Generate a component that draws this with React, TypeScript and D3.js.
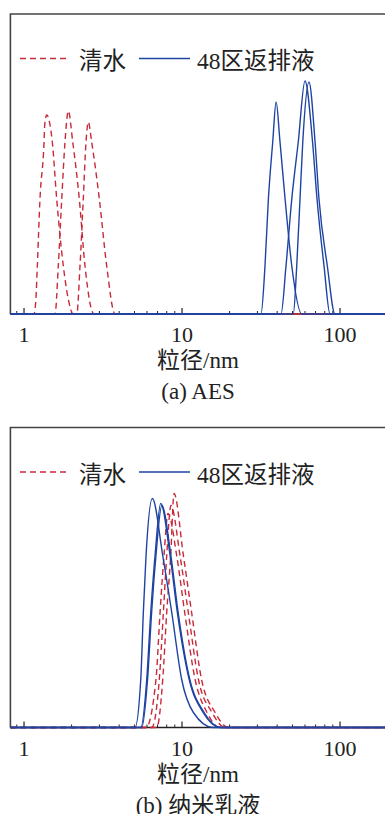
import React from 'react';
import * as d3 from 'd3';

type Pt = [number, number];

// particle size (nm) vs intensity (%)
const aesWater1: Pt[] = [[0.82, 0], [1.157, 0], [1.19, 1.6], [1.214, 4.8], [1.262, 11.5], [1.339, 17.2], [1.352, 18.9], [1.392, 19.9], [1.461, 18.9], [1.51, 17.2], [1.61, 11.5], [1.773, 4.8], [1.9, 1.6], [2.05, 0], [200, 0]];
const aesWater2: Pt[] = [[0.82, 0], [1.571, 0], [1.648, 4.8], [1.733, 11.5], [1.817, 17.2], [1.907, 20.3], [2.034, 17.2], [2.238, 11.5], [2.432, 4.8], [2.773, 0], [200, 0]];
const aesWater3: Pt[] = [[0.82, 0], [2.157, 0], [2.261, 4.8], [2.372, 11.5], [2.468, 17.2], [2.553, 19.2], [2.68, 17.2], [2.997, 11.5], [3.336, 4.8], [3.767, 0], [200, 0]];
const aesFlow1: Pt[] = [[0.82, 0], [31.6, 0], [33.5, 4.8], [35.2, 11.5], [37.5, 17.2], [39.4, 21.2], [41.7, 17.2], [44.9, 11.5], [49.5, 4.8], [57.3, 0], [200, 0]];
const aesFlow2: Pt[] = [[0.82, 0], [42.3, 0], [45.5, 4.8], [49.5, 11.5], [54.4, 17.2], [60.0, 23.3], [67.0, 17.2], [71.5, 11.5], [79.2, 4.8], [86.4, 0], [200, 0]];
const aesFlow3: Pt[] = [[0.82, 0], [50.6, 0], [53.2, 4.8], [55.8, 11.5], [58.1, 17.2], [63.6, 23.2], [69.5, 17.2], [73.6, 11.5], [83.1, 4.8], [92.9, 0], [200, 0]];

const nanoWater1: Pt[] = [[0.82, 0], [5.92, 0], [6.84, 4.8], [7.26, 11.5], [7.69, 17.2], [8.15, 21.4], [9.25, 17.2], [10.4, 11.5], [12.1, 4.8], [14.4, 1.5], [17.4, 0], [200, 0]];
const nanoWater2: Pt[] = [[0.82, 0], [6.43, 0], [7.18, 4.8], [7.62, 11.5], [8.0, 17.2], [8.51, 22.2], [9.71, 17.2], [10.96, 11.5], [12.7, 4.8], [15.5, 1.5], [18.7, 0], [200, 0]];
const nanoWater3: Pt[] = [[0.82, 0], [6.92, 0], [7.55, 4.8], [8.0, 11.5], [8.48, 17.2], [8.9, 23.4], [10.2, 17.2], [11.5, 11.5], [13.3, 4.8], [16.2, 1.5], [19.6, 0], [200, 0]];
const nanoFlow1: Pt[] = [[0.82, 0], [5.04, 0], [5.48, 4.8], [5.69, 11.5], [5.92, 17.2], [6.49, 22.9], [7.55, 17.2], [8.61, 11.5], [9.95, 4.8], [11.8, 1.5], [15.7, 0], [200, 0]];
const nanoFlow2: Pt[] = [[0.82, 0], [5.48, 0], [5.98, 4.8], [6.34, 11.5], [6.75, 17.2], [7.33, 22.4], [8.4, 17.2], [9.34, 11.5], [11.1, 4.8], [13.6, 1.5], [17.4, 0], [200, 0]];
const nanoFlow3: Pt[] = [[0.82, 0], [5.56, 0], [6.05, 4.8], [6.42, 11.5], [6.84, 17.2], [7.45, 22.2], [8.5, 17.2], [9.45, 11.5], [11.2, 4.8], [13.8, 1.5], [17.6, 0], [200, 0]];

const majorTicks = [1, 10, 100];
const minorTicks = [0.9, 2, 3, 4, 5, 6, 7, 8, 9, 20, 30, 40, 50, 60, 70, 80, 90, 200];
const legendLabels = ['清水', '48区返排液'];

const RED = '#c72a3a';
const BLUE = '#1f43a3';
const FONT = "'Liberation Serif', 'Times New Roman', 'Noto Sans CJK SC', serif";

function Panel({ top, water, flow, caption }: { top: number; water: Pt[][]; flow: Pt[][]; caption: string }) {
  const base = top + 300;
  const x = d3.scaleLog().domain([0.82, 200]).range([10.4, 387.6]);
  const y = d3.scaleLinear().domain([0, 30]).range([base, top]);
  const line = d3.line<Pt>().x(d => x(d[0])).y(d => y(d[1])).curve(d3.curveMonotoneX);

  return (
    <g>
      {/* frame */}
      <path d={`M${x(0.82)},${base}V${top}H${x(200)}V${base}`} fill="none" stroke="#444" strokeWidth={1.6} />
      <line x1={x(0.82)} x2={x(200)} y1={base} y2={base} stroke="#222" strokeWidth={1.6} />
      {majorTicks.map(t => (
        <line key={'M' + t} x1={x(t)} x2={x(t)} y1={base} y2={base - 6} stroke="#222" strokeWidth={1.2} />
      ))}
      {minorTicks.map(t => (
        <line key={'m' + t} x1={x(t)} x2={x(t)} y1={base} y2={base - 3} stroke="#222" strokeWidth={1} />
      ))}
      {water.map((s, i) => (
        <path key={'w' + i} d={line(s) || ''} fill="none" stroke={RED} strokeWidth={1.4} strokeDasharray="6,4" />
      ))}
      {flow.map((s, i) => (
        <path key={'f' + i} d={line(s) || ''} fill="none" stroke={BLUE} strokeWidth={1.4} />
      ))}
      {majorTicks.map(t => (
        <text key={'l' + t} x={x(t)} y={base + 28} textAnchor="middle" fontSize={22} fill="#222" fontFamily={FONT}>{t}</text>
      ))}
      <text x={198} y={base + 54} textAnchor="middle" fontSize={23} fill="#222" fontFamily={FONT}>粒径/nm</text>
      <text x={198} y={base + 85} textAnchor="middle" fontSize={23} fill="#222" fontFamily={FONT}>{caption}</text>
      {/* legend */}
      <line x1={20} x2={70} y1={top + 44.5} y2={top + 44.5} stroke={RED} strokeWidth={1.4} strokeDasharray="6,4" />
      <text x={79} y={top + 55} fontSize={23.5} fill="#222" fontFamily={FONT}>{legendLabels[0]}</text>
      <line x1={139} x2={190} y1={top + 44.5} y2={top + 44.5} stroke={BLUE} strokeWidth={1.4} />
      <text x={197} y={top + 55} fontSize={23.5} fill="#222" fontFamily={FONT}>{legendLabels[1]}</text>
    </g>
  );
}

export default function App() {
  return (
    <svg width={385} height={814} style={{ position: 'absolute', left: 0, top: 0, background: '#fff' }}>
      <rect width={385} height={814} fill="#fff" />
      <Panel top={14} water={[aesWater1, aesWater2, aesWater3]} flow={[aesFlow1, aesFlow2, aesFlow3]} caption="(a) AES" />
      <Panel top={427.5} water={[nanoWater1, nanoWater2, nanoWater3]} flow={[nanoFlow1, nanoFlow2, nanoFlow3]} caption="(b) 纳米乳液" />
    </svg>
  );
}
